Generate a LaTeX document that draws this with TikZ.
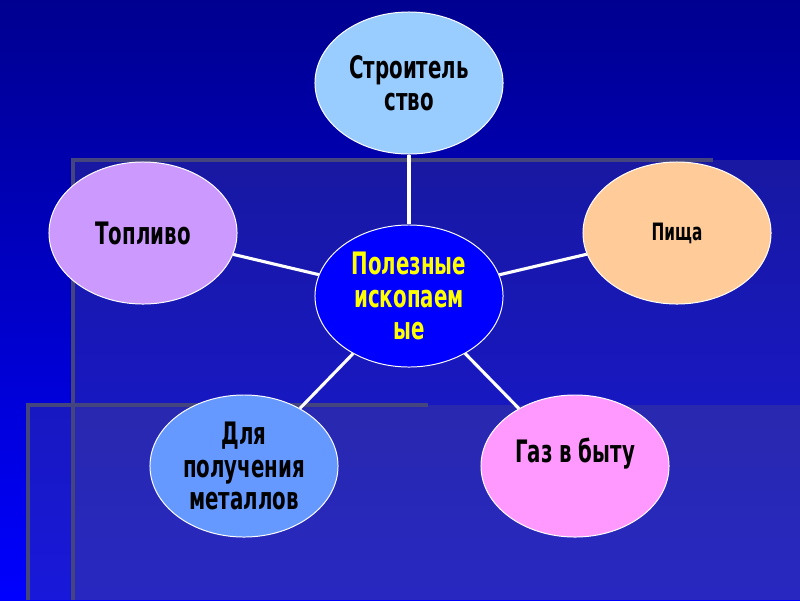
\documentclass[tikz,border=0pt]{standalone}
\usepackage{fontspec}
\usepackage{tikz}
\usetikzlibrary{positioning,shapes.geometric}
\newfontfamily\bubblefont[FakeStretch=0.64]{DejaVu Sans}
\definecolor{MinNavyTop}{HTML}{000090}
\definecolor{MinBlueLow}{HTML}{0000FF}
\definecolor{MinVeil}{HTML}{505088}
\definecolor{MinEdge}{HTML}{44447E}
\definecolor{MinSky}{HTML}{99CCFF}
\definecolor{MinLilac}{HTML}{CC99FF}
\definecolor{MinPeach}{HTML}{FFCC99}
\definecolor{MinCore}{HTML}{0000FF}
\definecolor{MinSteel}{HTML}{6699FF}
\definecolor{MinPink}{HTML}{FF99FF}
\definecolor{MinYellow}{HTML}{FFFF00}

\begin{document}
\begin{tikzpicture}[x=0.025cm,y=-0.025cm,
    bubble/.style={ellipse,draw=white,line width=0.7pt,minimum width=4.7cm,
      minimum height=3.55cm,inner sep=0pt,align=center,text=black,
      font=\bubblefont\bfseries\fontsize{22}{23}\selectfont},
    corebubble/.style={bubble,fill=MinCore,text=MinYellow},
    spoke/.style={draw=white,line width=2.2pt},
    veil/.style={fill=MinVeil,fill opacity=0.3},
    veiledge/.style={draw=MinEdge,line width=2.8pt}
  ]
    % background and the two veils
    \shade[top color=MinNavyTop,bottom color=MinBlueLow] (0,0) rectangle (800,600);
    \useasboundingbox (0,0) rectangle (800,600);
    \fill[veil] (73,160) rectangle (800,600);
    \fill[veil] (28,405) rectangle (800,600);
    \draw[veiledge] (73,600) -- (73,160) -- (713,160);
    \draw[veiledge] (28,600) -- (28,405) -- (428,405);

    \node[corebubble] (core) at (409,296) {Полезные\\ископаем\\ые};
    \node[bubble,fill=MinSky] (build) at (409,83) {Строитель\\ство};
    \node[bubble,fill=MinLilac] (fuel) at (143,233) {Топливо};
    \node[bubble,fill=MinPeach,font=\bubblefont\bfseries\fontsize{17}{20}\selectfont] (food) at (677,233) {Пища};
    \node[bubble,fill=MinSteel] (metal) at (244,466) {Для\\получения\\металлов};
    \node[bubble,fill=MinPink] (gas) at (575,466) {Газ в быту\\\phantom{Г}};

    \draw[spoke] (core) -- (build);
    \draw[spoke] (core) -- (fuel);
    \draw[spoke] (core) -- (food);
    \draw[spoke] (core) -- (metal);
    \draw[spoke] (core) -- (gas);
\end{tikzpicture}
\end{document}
